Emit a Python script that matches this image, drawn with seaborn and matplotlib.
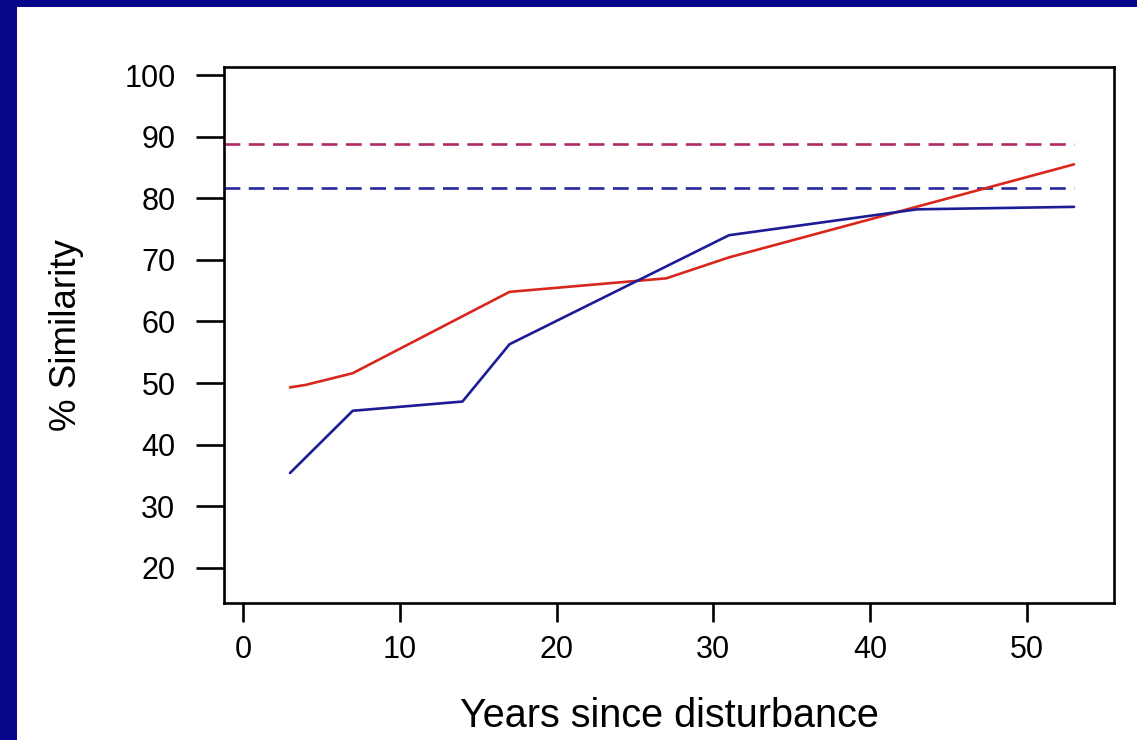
import matplotlib
matplotlib.use("Agg")
import matplotlib.pyplot as plt
import matplotlib.patches as mpatches
import seaborn as sns
import pandas as pd

# Data
red_years = [3, 4, 7, 17, 27, 31, 53]
red_similarity = [49.3, 49.7, 51.6, 64.8, 67.0, 70.4, 85.5]
blue_years = [3, 7, 14, 17, 31, 43, 53]
blue_similarity = [35.4, 45.5, 47.0, 56.3, 74.0, 78.2, 78.6]
red_reference = 88.8
blue_reference = 81.6
ref_span = [-1.2, 53]
x_ticks = [0, 10, 20, 30, 40, 50]
y_ticks = [20, 30, 40, 50, 60, 70, 80, 90, 100]

sns.set_theme(style="white")
plt.rcParams['font.family'] = ['Liberation Sans', 'DejaVu Sans']

fig = plt.figure(figsize=(11.37, 7.40), dpi=100)
fig.patch.set_facecolor('#06068a')
# white slide panel
fig.add_artist(mpatches.Rectangle((17/1137, 0), 1 - 17/1137, (740-7)/740,
                                  transform=fig.transFigure, facecolor='white',
                                  edgecolor='none', zorder=0))

ax = fig.add_axes([224/1137, (740-603)/740, (1114-224)/1137, (603-67)/740])
ax.set_facecolor('white')

df_red = pd.DataFrame({"Years": red_years, "Similarity": red_similarity})
df_blue = pd.DataFrame({"Years": blue_years, "Similarity": blue_similarity})
df_ref_red = pd.DataFrame({"Years": ref_span, "Similarity": [red_reference]*2})
df_ref_blue = pd.DataFrame({"Years": ref_span, "Similarity": [blue_reference]*2})

sns.lineplot(data=df_ref_red, x="Years", y="Similarity", ax=ax, color='#b02a66',
             lw=1.9, linestyle=(0, (6, 3.2)))
sns.lineplot(data=df_ref_blue, x="Years", y="Similarity", ax=ax, color='#2828a0',
             lw=1.9, linestyle=(0, (6, 3.2)))
sns.lineplot(data=df_red, x="Years", y="Similarity", ax=ax, color='#d8281e', lw=1.9)
sns.lineplot(data=df_blue, x="Years", y="Similarity", ax=ax, color='#1c1c96', lw=1.9)

ax.set_xlim(-1.21, 55.55)
ax.set_ylim(14.3, 101.3)
ax.set_xticks(x_ticks)
ax.set_yticks(y_ticks)
for s in ax.spines.values():
    s.set_color('black')
    s.set_linewidth(1.9)
ax.tick_params(axis='y', direction='out', length=20, width=1.9, color='black',
               labelsize=22, pad=15, left=True)
ax.tick_params(axis='x', direction='out', length=14, width=1.9, color='black',
               labelsize=22, pad=9, bottom=True)
ax.set_xlabel("Years since disturbance", fontsize=28.5, labelpad=23, color='black')
ax.set_ylabel("% Similarity", fontsize=26.5, labelpad=29, color='black')
for lbl in ax.get_xticklabels() + ax.get_yticklabels():
    lbl.set_color('black')

fig.savefig("out.png", dpi=100, facecolor=fig.get_facecolor())
